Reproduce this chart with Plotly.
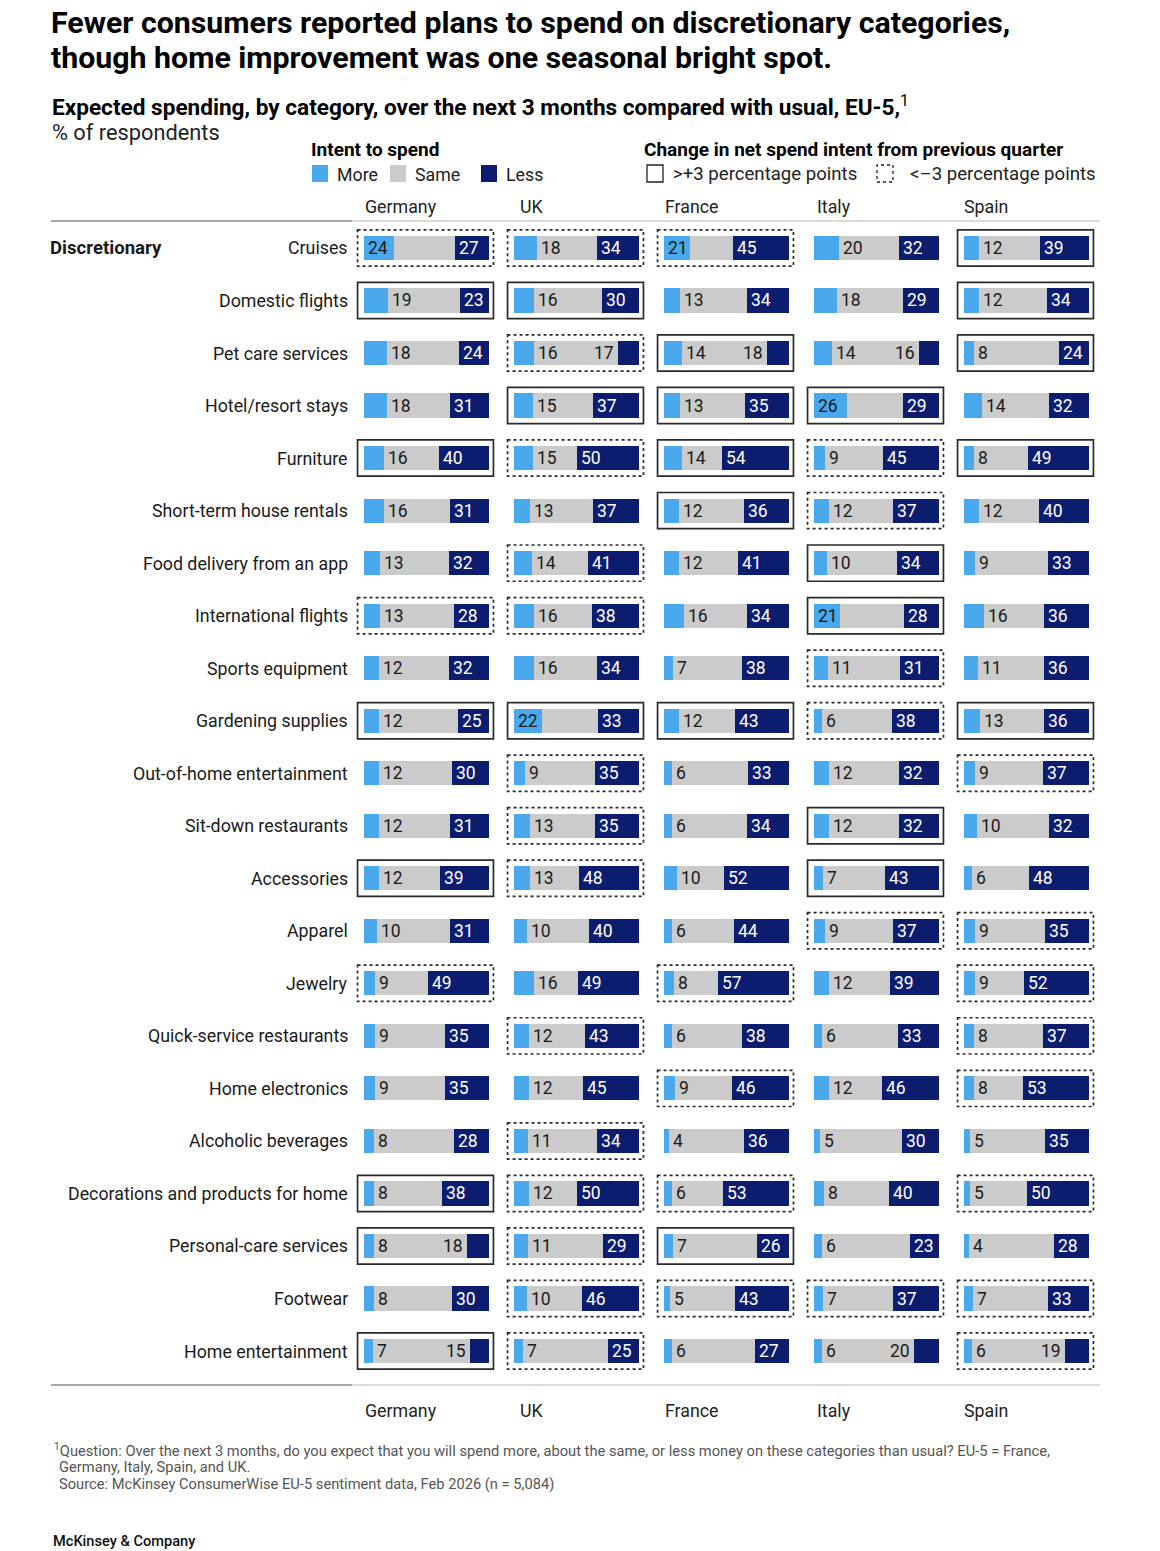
import plotly.graph_objects as go

categories = [
    "Cruises", "Domestic flights", "Pet care services", "Hotel/resort stays", "Furniture",
    "Short-term house rentals", "Food delivery from an app", "International flights",
    "Sports equipment", "Gardening supplies", "Out-of-home entertainment",
    "Sit-down restaurants", "Accessories", "Apparel", "Jewelry",
    "Quick-service restaurants", "Home electronics", "Alcoholic beverages",
    "Decorations and products for home", "Personal-care services", "Footwear",
    "Home entertainment",
]
countries = ["Germany", "UK", "France", "Italy", "Spain"]

more_germany = [24, 19, 18, 18, 16, 16, 13, 13, 12, 12, 12, 12, 12, 10, 9, 9, 9, 8, 8, 8, 8, 7]
less_germany = [27, 23, 24, 31, 40, 31, 32, 28, 32, 25, 30, 31, 39, 31, 49, 35, 35, 28, 38, 18, 30, 15]
change_germany = ["D", "S", "N", "N", "S", "N", "N", "D", "N", "S", "N", "N", "S", "N", "D", "N", "N", "N", "S", "S", "N", "S"]

more_uk = [18, 16, 16, 15, 15, 13, 14, 16, 16, 22, 9, 13, 13, 10, 16, 12, 12, 11, 12, 11, 10, 7]
less_uk = [34, 30, 17, 37, 50, 37, 41, 38, 34, 33, 35, 35, 48, 40, 49, 43, 45, 34, 50, 29, 46, 25]
change_uk = ["D", "S", "D", "S", "D", "N", "D", "D", "N", "S", "D", "D", "D", "N", "N", "D", "N", "D", "D", "D", "D", "D"]

more_france = [21, 13, 14, 13, 14, 12, 12, 16, 7, 12, 6, 6, 10, 6, 8, 6, 9, 4, 6, 7, 5, 6]
less_france = [45, 34, 18, 35, 54, 36, 41, 34, 38, 43, 33, 34, 52, 44, 57, 38, 46, 36, 53, 26, 43, 27]
change_france = ["D", "N", "S", "S", "S", "S", "N", "N", "N", "S", "N", "N", "N", "N", "D", "N", "D", "N", "D", "S", "D", "N"]

more_italy = [20, 18, 14, 26, 9, 12, 10, 21, 11, 6, 12, 12, 7, 9, 12, 6, 12, 5, 8, 6, 7, 6]
less_italy = [32, 29, 16, 29, 45, 37, 34, 28, 31, 38, 32, 32, 43, 37, 39, 33, 46, 30, 40, 23, 37, 20]
change_italy = ["N", "N", "N", "S", "D", "D", "S", "S", "D", "D", "N", "S", "S", "D", "N", "N", "N", "N", "N", "N", "D", "N"]

more_spain = [12, 12, 8, 14, 8, 12, 9, 16, 11, 13, 9, 10, 6, 9, 9, 8, 8, 5, 5, 4, 7, 6]
less_spain = [39, 34, 24, 32, 49, 40, 33, 36, 36, 36, 37, 32, 48, 35, 52, 37, 53, 35, 50, 28, 33, 19]
change_spain = ["S", "S", "S", "N", "S", "N", "N", "N", "N", "S", "D", "N", "N", "D", "D", "D", "D", "N", "D", "N", "D", "D"]

more_all = [more_germany, more_uk, more_france, more_italy, more_spain]
less_all = [less_germany, less_uk, less_france, less_italy, less_spain]
change_all = [change_germany, change_uk, change_france, change_italy, change_spain]

W, H = 1160, 1551
FONT = "Roboto"
C_MORE = "#4AA8EC"
C_SAME = "#CBCBCB"
C_LESS = "#0C1C6E"
TXT = "#1a1a1a"


def px(x):
    return x / W


def py(y):
    return 1 - y / H


fig = go.Figure()

col_left = [357, 507, 657, 807, 957]
col_w = 137
xr = [-5.6, 104.0]

shapes = []
annotations = []

for ci, country in enumerate(countries):
    ax = "x" if ci == 0 else f"x{ci + 1}"
    m = more_all[ci]
    l = less_all[ci]
    s = [100 - a - b for a, b in zip(m, l)]
    for vals, col in [(m, C_MORE), (s, C_SAME), (l, C_LESS)]:
        fig.add_trace(go.Bar(
            y=categories, x=vals, orientation="h", xaxis=ax, yaxis="y",
            marker=dict(color=col, line=dict(width=0)), width=0.46,
            hoverinfo="skip", showlegend=False,
        ))
    for i, cat in enumerate(categories):
        if m[i] >= 21:
            annotations.append(dict(x=0, y=cat, xref=ax, yref="y", text=str(m[i]),
                                    xanchor="left", yanchor="middle", xshift=2, showarrow=False,
                                    font=dict(family=FONT, size=17.5, color=TXT)))
        else:
            annotations.append(dict(x=m[i], y=cat, xref=ax, yref="y", text=str(m[i]),
                                    xanchor="left", yanchor="middle", xshift=2, showarrow=False,
                                    font=dict(family=FONT, size=17.5, color=TXT)))
        if l[i] >= 21:
            annotations.append(dict(x=100 - l[i], y=cat, xref=ax, yref="y", text=str(l[i]),
                                    xanchor="left", yanchor="middle", xshift=2, showarrow=False,
                                    font=dict(family=FONT, size=17.5, color="white")))
        else:
            annotations.append(dict(x=100 - l[i], y=cat, xref=ax, yref="y", text=str(l[i]),
                                    xanchor="right", yanchor="middle", xshift=-2, showarrow=False,
                                    font=dict(family=FONT, size=17.5, color=TXT)))
        ch = change_all[ci][i]
        if ch != "N":
            shapes.append(dict(type="rect", xref=f"{ax} domain", yref="y",
                               x0=0.004, x1=0.996, y0=i - 0.345, y1=i + 0.345,
                               line=dict(color="#2a2a2a", width=1.7,
                                         dash="solid" if ch == "S" else "3px,3px"),
                               fillcolor="rgba(0,0,0,0)", layer="below"))

layout_axes = {}
for ci in range(5):
    key = "xaxis" if ci == 0 else f"xaxis{ci + 1}"
    layout_axes[key] = dict(domain=[px(col_left[ci]), px(col_left[ci] + col_w)], range=xr,
                            anchor="y", visible=False, fixedrange=True)

y_top, y_bot = 221.7, 1377.3
layout_axes["yaxis"] = dict(domain=[py(y_bot), py(y_top)], range=[len(categories) - 0.5, -0.5],
                            type="category", categoryorder="array", categoryarray=categories,
                            visible=False, fixedrange=True)

for i, cat in enumerate(categories):
    annotations.append(dict(x=px(350), y=cat, xref="paper", yref="y", text=cat,
                            xanchor="right", yanchor="middle", showarrow=False,
                            font=dict(family=FONT, size=17.8, color=TXT)))
annotations.append(dict(x=px(48), y=categories[0], xref="paper", yref="y", text="<b>Discretionary</b>",
                        xanchor="left", yanchor="middle", showarrow=False,
                        font=dict(family=FONT, size=18.6, color=TXT)))


def add_text(x, y, text, size, color=TXT, anchor="left", weight=None):
    f = dict(family=FONT, size=size, color=color)
    if weight:
        f["weight"] = weight
    annotations.append(dict(x=px(x), y=py(y), xref="paper", yref="paper", text=text,
                            xanchor=anchor, yanchor="middle", showarrow=False, font=f))


add_text(49, 22, "<b>Fewer consumers reported plans to spend on discretionary categories,</b>", 30.3, "#000")
add_text(49, 57, "<b>though home improvement was one seasonal bright spot.</b>", 30.3, "#000")
add_text(50, 106, "<b>Expected spending, by category, over the next 3 months compared with usual, EU-5,</b><sup>1</sup>", 22.6, "#000")
add_text(50, 132, "% of respondents", 21.8, "#222")

add_text(309, 149, "<b>Intent to spend</b>", 19, "#000")
add_text(642, 149, "<b>Change in net spend intent from previous quarter</b>", 19, "#000")

legend_items = [(312, "More", C_MORE), (390, "Same", C_SAME), (481, "Less", C_LESS)]
for x0, label, col in legend_items:
    shapes.append(dict(type="rect", xref="paper", yref="paper", x0=px(x0), x1=px(x0 + 16),
                       y0=py(182), y1=py(165), fillcolor=col, line=dict(width=0)))
    add_text(x0 + 23, 174, label, 17.8, "#222")

shapes.append(dict(type="rect", xref="paper", yref="paper", x0=px(647), x1=px(663),
                   y0=py(182), y1=py(165), fillcolor="rgba(0,0,0,0)",
                   line=dict(color="#222", width=1.3)))
add_text(671, 174, "&gt;+3 percentage points", 18.6, "#222")
shapes.append(dict(type="rect", xref="paper", yref="paper", x0=px(877), x1=px(893),
                   y0=py(182), y1=py(165), fillcolor="rgba(0,0,0,0)",
                   line=dict(color="#222", width=1.3, dash="3px,3px")))
add_text(908, 174, "&lt;–3 percentage points", 18.6, "#222")

header_x = [363, 518, 663, 815, 962]
for cx, c in zip(header_x, countries):
    add_text(cx, 206, c, 17.8, "#222")
    add_text(cx, 1410, c, 17.8, "#222")

for yy in [221, 1385]:
    shapes.append(dict(type="line", xref="paper", yref="paper", x0=px(51), x1=px(352),
                       y0=py(yy), y1=py(yy), line=dict(color="#8a8a8a", width=1.3)))
    shapes.append(dict(type="line", xref="paper", yref="paper", x0=px(352), x1=px(1100),
                       y0=py(yy), y1=py(yy), line=dict(color="#cfcfcf", width=1.3)))

add_text(52, 1450, "<sup>1</sup>Question: Over the next 3 months, do you expect that you will spend more, about the same, or less money on these categories than usual? EU-5 = France,", 14.7, "#555")
add_text(57, 1467, "Germany, Italy, Spain, and UK.", 14.7, "#555")
add_text(57, 1484, "Source: McKinsey ConsumerWise EU-5 sentiment data, Feb 2026 (n = 5,084)", 14.7, "#555")
add_text(51, 1541, "McKinsey &amp; Company", 14.6, "#111", weight=500)

fig.update_layout(
    width=W, height=H, margin=dict(l=0, r=0, t=0, b=0),
    paper_bgcolor="white", plot_bgcolor="white",
    barmode="stack", bargap=0, showlegend=False,
    shapes=shapes, annotations=annotations,
    font=dict(family=FONT),
    **layout_axes,
)

fig.write_html("out.html", config={"displayModeBar": False, "staticPlot": True},
               post_script="document.body.style.margin='0px';")
